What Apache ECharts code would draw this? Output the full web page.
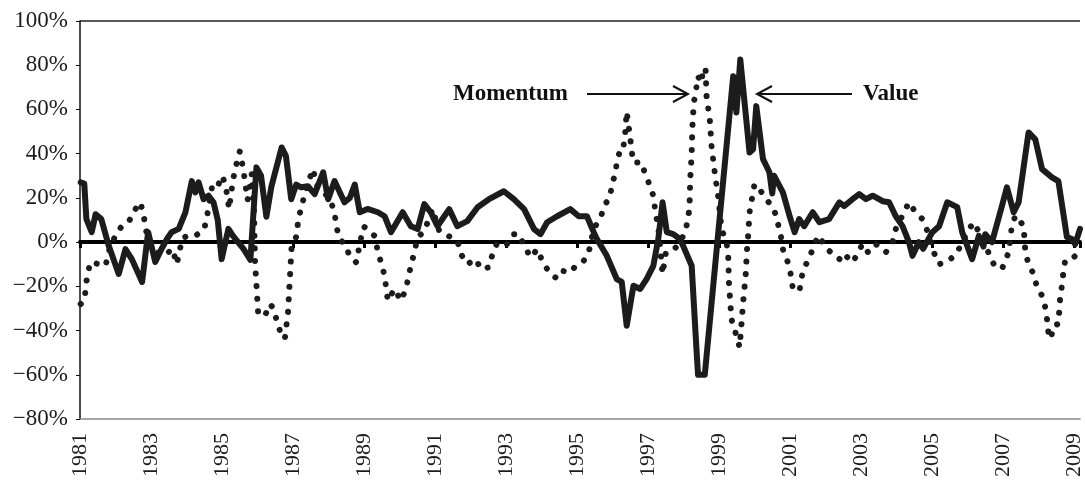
<!DOCTYPE html>
<html>
<head>
<meta charset="utf-8">
<script src="https://cdn.jsdelivr.net/npm/echarts@6/dist/echarts.min.js"></script>
<style>
  html, body { margin: 0; padding: 0; background: #fff; }
  #chart { width: 1085px; height: 480px; }
</style>
</head>
<body>
<div id="chart"></div>
<script>
// ---- data (decimal year, return in %) ----
const valueDates = [1981.02,1981.12,1981.18,1981.33,1981.44,1981.6,1981.81,1982.09,1982.28,1982.46,1982.75,1982.92,1983.12,1983.3,1983.45,1983.58,1983.78,1983.97,1984.15,1984.25,1984.34,1984.48,1984.62,1984.76,1984.88,1984.99,1985.18,1985.3,1985.45,1985.6,1985.8,1985.97,1986.1,1986.25,1986.39,1986.68,1986.8,1986.95,1987.09,1987.23,1987.42,1987.61,1987.85,1987.99,1988.17,1988.45,1988.6,1988.74,1988.88,1989.1,1989.39,1989.58,1989.76,1990.09,1990.32,1990.51,1990.7,1990.88,1991.07,1991.4,1991.63,1991.91,1992.2,1992.52,1992.94,1993.22,1993.51,1993.79,1993.97,1994.16,1994.44,1994.81,1995.05,1995.28,1995.47,1995.56,1995.84,1996.12,1996.26,1996.4,1996.59,1996.78,1996.96,1997.15,1997.29,1997.41,1997.53,1997.71,1997.9,1997.99,1998.23,1998.37,1998.41,1998.6,1998.98,1999.4,1999.49,1999.6,1999.86,1999.96,2000.05,2000.24,2000.42,2000.5,2000.55,2000.8,2000.99,2001.13,2001.26,2001.4,2001.64,2001.83,2002.1,2002.39,2002.53,2002.76,2002.95,2003.14,2003.33,2003.61,2003.79,2003.98,2004.17,2004.35,2004.45,2004.63,2004.75,2005.01,2005.2,2005.43,2005.71,2005.85,2006.13,2006.32,2006.45,2006.5,2006.69,2006.97,2007.11,2007.3,2007.44,2007.72,2007.91,2008.1,2008.38,2008.56,2008.8,2008.94,2009.03,2009.17];
const valueReturns = [27,26.5,10.4,4.5,12.6,10.4,-1.7,-14.4,-3.2,-7.7,-18,4.5,-9,-3,1.4,4.5,6,13.5,27.6,22.5,27,19.4,21,18,10,-7.7,6,3,0,-3,-8,33.8,30,11.5,25,42.8,39,19.4,26,24.8,25.3,21.7,31.6,19.4,27.6,18,20,26,13.5,15,13.5,11.7,4.5,13.5,7.2,5.9,17.2,13.5,7.2,14.9,7.2,9.5,15.8,19.4,23,19.4,14.9,5.9,3.6,9,11.7,14.9,11.7,11.7,4.5,1.4,-6.2,-16.7,-18,-37.8,-19.7,-21.2,-16.7,-10.7,1.4,18,4.5,3.6,1.4,-1.7,-10.7,-49.7,-60,-60,4.5,75,58.6,82.6,40.5,42,61.5,37.5,31.6,22,30,22.5,11.7,4.5,10.4,7.2,13.5,9,10.4,18,16.3,19.4,21.7,19.4,21,18.5,18,11.7,7.2,0,-6.2,0,-3,4.5,7.2,18,15.8,4.5,-7.7,2.8,-2,3.6,0,16.3,24.8,13.5,18,49.6,46.5,33,29.3,27.6,2.3,1.4,-1,6];

const momentumDates = [1981.02,1981.12,1981.17,1981.2,1981.3,1981.53,1981.72,1981.85,1982.05,1982.18,1982.37,1982.52,1982.7,1982.8,1982.84,1983.1,1983.4,1983.6,1983.73,1983.8,1983.9,1984.1,1984.25,1984.5,1984.57,1984.66,1984.72,1984.85,1985.0,1985.1,1985.2,1985.3,1985.37,1985.5,1985.6,1985.65,1985.72,1985.84,1985.9,1985.93,1986.02,1986.21,1986.35,1986.45,1986.55,1986.65,1986.77,1986.86,1986.96,1987.1,1987.15,1987.4,1987.57,1987.65,1987.8,1988.05,1988.17,1988.22,1988.31,1988.45,1988.6,1988.78,1988.92,1989.0,1989.15,1989.3,1989.4,1989.48,1989.58,1989.67,1989.86,1990.04,1990.18,1990.32,1990.42,1990.51,1990.7,1990.93,1991.12,1991.35,1991.63,1991.73,1991.91,1992.15,1992.29,1992.52,1992.62,1992.76,1993.04,1993.22,1993.37,1993.51,1993.7,1993.88,1994.02,1994.16,1994.3,1994.44,1994.58,1994.81,1995.0,1995.19,1995.33,1995.47,1995.66,1995.8,1995.94,1995.98,1996.08,1996.12,1996.22,1996.3,1996.36,1996.4,1996.5,1996.54,1996.59,1996.82,1996.92,1997.06,1997.15,1997.2,1997.3,1997.41,1997.5,1997.71,1997.9,1998.04,1998.13,1998.17,1998.19,1998.23,1998.25,1998.29,1998.37,1998.41,1998.5,1998.55,1998.62,1998.65,1998.74,1998.79,1998.88,1998.98,1999.07,1999.21,1999.26,1999.28,1999.35,1999.49,1999.58,1999.63,1999.68,1999.75,1999.79,1999.82,1999.86,2000.0,2000.14,2000.33,2000.52,2000.61,2000.75,2000.8,2000.94,2001.03,2001.08,2001.27,2001.31,2001.41,2001.55,2001.69,2001.8,2002.0,2002.1,2002.39,2002.5,2002.76,2002.9,2003.04,2003.2,2003.42,2003.7,2003.89,2003.98,2004.21,2004.35,2004.54,2004.73,2004.85,2005.05,2005.2,2005.48,2005.71,2006.04,2006.18,2006.4,2006.74,2006.97,2007.16,2007.25,2007.35,2007.58,2007.63,2007.72,2007.86,2007.96,2008.1,2008.19,2008.24,2008.28,2008.35,2008.42,2008.56,2008.61,2008.66,2008.7,2008.75,2008.94,2009.05];
const momentumReturns = [-28,-26.5,-20,-15,-9,-10,-10.7,-2,4.5,7.2,9,14,18,11.7,5.9,-4,-6,-3,-10,-4,2,3,2.8,5.9,11,19.4,25,24,30,26,15,27,33,41,33,27,19,31,15,-9,-32.5,-33.3,-28,-30,-36,-41,-43.8,-31.6,-2.4,2.8,10.4,26,33,26,24,19,13.5,7.2,1.4,-0.9,-6.2,-9.2,2.1,7,5,2.8,-5,-9.2,-15.2,-26.5,-21.2,-26.5,-21.2,-10.7,-4.6,2.1,5,15,5,3,0.6,-5.4,-10,-7.7,-12.2,-11.4,-5.4,0,-0.9,3.6,3.6,-1.7,-6.9,-3.2,-8.4,-12.2,-15.2,-16.4,-13,-13.7,-10,-8.4,-4.6,5.9,11.1,17.2,20.9,26.2,30.7,36,42,42,50,59,47,41.2,36,36,30.7,25.4,20.9,14.9,5,-14.4,-5,-3.9,0,4.4,10.4,16.4,28.4,39.7,51.8,63,70.6,75,72,77.3,78.9,66,55.5,43.5,31.5,20.2,5.9,0,-6.2,-18.2,-34.8,-42.3,-47.5,-37.8,-27.2,-15.2,-3.2,2.8,13.4,26.2,24,19.4,15.7,11.9,2.1,-3.2,-9.2,-15.2,-21.2,-22,-16.7,-11.4,-6.9,-0.9,3,-2,-3.9,-7.7,-5,-9.2,-5.4,-0.9,-4.6,-0.9,-4.6,0,5.9,13.4,18,13.4,10.4,5.9,-4.6,-10,-8.4,-4.6,5.9,8.9,2,-10,-12.2,-4.6,7.4,12,7.4,-4.6,-10,-14.4,-20.5,-24.2,-29.5,-34.8,-40.8,-43.8,-37.8,-37,-25,-19.7,-13.7,-8.4,-7.7,-6];

const yTicks = { min: -80, max: 100, step: 20 };
const xRange = { min: 1981, max: 2009.17, step: 2 };

// ---- chart ----
const FONT = '"Liberation Serif", "Times New Roman", serif';
const INK = '#1c1c1c';
const chart = echarts.init(document.getElementById('chart'), null, { renderer: 'canvas' });

const pairs = (xs, ys) => xs.map((x, i) => [x, ys[i]]);
const yearLabel = v => (Math.abs(v - Math.round(v)) < 0.01 ? String(Math.round(v)) : '');
const pctLabel = v => (v < 0 ? '\u2212' + (-v) : String(v)) + '%';

chart.setOption({
  animation: false,
  backgroundColor: '#fff',
  grid: { left: 80, right: 0, top: 21, bottom: 60, containLabel: false },
  xAxis: [
    {
      type: 'value', min: xRange.min, max: xRange.max, interval: xRange.step,
      position: 'bottom',
      axisLine: { show: true, onZero: false, lineStyle: { color: '#8a8a8a', width: 1.5 } },
      axisTick: { show: false },
      splitLine: { show: false },
      axisLabel: {
        rotate: 90, margin: 14, color: INK, fontFamily: FONT, fontSize: 22,
        formatter: yearLabel, showMaxLabel: true, showMinLabel: true
      }
    },
    {
      type: 'value', min: xRange.min, max: xRange.max, interval: xRange.step,
      position: 'top',
      axisLine: { show: true, onZero: true, lineStyle: { color: '#000', width: 4 } },
      axisTick: { show: true, inside: true, length: 6, lineStyle: { color: '#000', width: 3 } },
      axisLabel: { show: false },
      splitLine: { show: false }
    }
  ],
  yAxis: {
    type: 'value', min: yTicks.min, max: yTicks.max, interval: yTicks.step,
    axisLine: { show: true, onZero: false, lineStyle: { color: '#111', width: 1.5 } },
    axisTick: { show: true, length: 4, lineStyle: { color: '#111', width: 1 } },
    splitLine: { show: false },
    axisLabel: { color: INK, fontFamily: FONT, fontSize: 23, margin: 12, formatter: pctLabel }
  },
  series: [
    {
      name: 'Momentum', type: 'line', xAxisIndex: 0, showSymbol: false, symbol: 'none',
      data: pairs(momentumDates, momentumReturns),
      lineStyle: { color: INK, width: 6, type: [0.1, 12.5], cap: 'round', join: 'round' },
      z: 2,
      markLine: {
        silent: true, symbol: ['none', 'none'], label: { show: false },
        data: [{ yAxis: 100, lineStyle: { color: '#222', width: 1.5, type: 'solid' } }]
      }
    },
    {
      name: 'Value', type: 'line', xAxisIndex: 0, showSymbol: false, symbol: 'none',
      data: pairs(valueDates, valueReturns),
      lineStyle: { color: INK, width: 6, type: 'solid', cap: 'round', join: 'round' },
      z: 3
    }
  ],
  graphic: [
    { type: 'text', x: 453, y: 94, style: { text: 'Momentum', font: 'bold 23px ' + FONT, fill: '#111', textVerticalAlign: 'middle', verticalAlign: 'middle' }, z: 10 },
    { type: 'polyline', shape: { points: [[587, 94], [688, 94]] }, style: { stroke: '#111', lineWidth: 2 }, z: 10 },
    { type: 'polyline', shape: { points: [[673, 86], [688, 94], [673, 102]] }, style: { stroke: '#111', lineWidth: 2, fill: null }, z: 10 },
    { type: 'text', x: 863, y: 94, style: { text: 'Value', font: 'bold 23px ' + FONT, fill: '#111', textVerticalAlign: 'middle', verticalAlign: 'middle' }, z: 10 },
    { type: 'polyline', shape: { points: [[757, 94], [852, 94]] }, style: { stroke: '#111', lineWidth: 2 }, z: 10 },
    { type: 'polyline', shape: { points: [[772, 86], [757, 94], [772, 102]] }, style: { stroke: '#111', lineWidth: 2, fill: null }, z: 10 }
  ]
});
</script>
</body>
</html>
